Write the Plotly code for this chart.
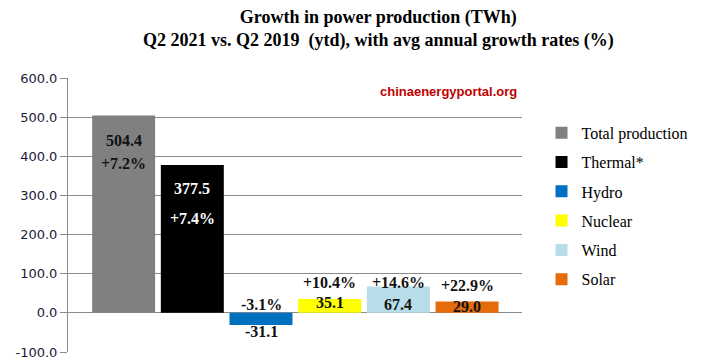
import plotly.graph_objects as go

categories = ["Total production", "Thermal*", "Hydro", "Nuclear", "Wind", "Solar"]
values = [504.4, 377.5, -31.1, 35.1, 67.4, 29.0]
growth = ["+7.2%", "+7.4%", "-3.1%", "+10.4%", "+14.6%", "+22.9%"]
value_text = ["504.4", "377.5", "-31.1", "35.1", "67.4", "29.0"]
y_ticks = [-100, 0, 100, 200, 300, 400, 500, 600]

colors = ["#808080", "#000000", "#0070C0", "#FFFF00", "#B7DEE8", "#E46C0A"]
label_colors = ["#111111", "#FFFFFF", "#111111", "#111111", "#111111", "#111111"]

# label anchoring: ("value" -> anchored at bar end, "zero" -> anchored at 0), pixel shift
value_anchor = [("value", -25), ("value", -23), ("value", -6), ("zero", 10), ("zero", 8), ("zero", 6)]
growth_anchor = [("value", -48), ("value", -53), ("zero", 8), ("zero", 30), ("zero", 30), ("zero", 27)]

fig = go.Figure()
for i, c in enumerate(categories):
    fig.add_trace(go.Bar(
        x=[c], y=[values[i]], name=c, width=0.917,
        marker=dict(color=colors[i], line=dict(width=0)),
        legendgroup=c, hoverinfo="skip",
    ))

serif = "Liberation Serif"
for i, c in enumerate(categories):
    for txt, (anc, sh) in ((value_text[i], value_anchor[i]), (growth[i], growth_anchor[i])):
        fig.add_annotation(
            x=c, y=values[i] if anc == "value" else 0, text="<b>%s</b>" % txt,
            showarrow=False, yshift=sh, yanchor="middle",
            font=dict(family=serif, size=16, color=label_colors[i]),
        )

fig.add_annotation(
    xref="paper", yref="paper", x=0.993, y=0.95, xanchor="right", yanchor="middle",
    text="<b>chinaenergyportal.org</b>", showarrow=False,
    font=dict(family="Liberation Sans", size=13, color="#C00000"),
)

# title as annotation (paper coords: plot top = 1.0, figure top = 1 + 78/274)
fig.add_annotation(
    xref="paper", yref="paper", x=(378 - 68) / 454, y=1 + (78 - 5) / 274,
    xanchor="center", yanchor="top", showarrow=False,
    text="<b>Growth in power production (TWh)<br>Q2 2021 vs. Q2 2019  (ytd), with avg annual growth rates (%)</b>",
    font=dict(family=serif, size=18, color="#000000"),
)

fig.update_layout(
    width=720, height=360,
    margin=dict(l=68, r=198, t=78, b=8, autoexpand=False),
    paper_bgcolor="white", plot_bgcolor="white",
    barmode="overlay",
    showlegend=True,
    legend=dict(
        x=1.043, xanchor="left", y=0.862, yanchor="top",
        font=dict(family=serif, size=16, color="#000000"),
        tracegroupgap=5.5, itemwidth=30, bgcolor="rgba(0,0,0,0)",
    ),
    xaxis=dict(
        type="category", categoryorder="array", categoryarray=categories,
        range=[-0.81, 5.80], showticklabels=False, showgrid=False,
        zeroline=False, showline=False, ticks="", automargin=False,
    ),
    yaxis=dict(
        range=[-100, 600], tickvals=y_ticks, ticktext=["%.1f" % v for v in y_ticks],
        showgrid=True, gridcolor="#8C8C8C", gridwidth=1,
        zeroline=True, zerolinecolor="#8C8C8C", zerolinewidth=1,
        showline=True, linecolor="#8C8C8C", linewidth=1,
        ticks="outside", ticklen=7, tickcolor="#8C8C8C", automargin=False,
        tickfont=dict(family="DejaVu Sans", size=13, color="#1A1A3A"),
    ),
)

fig.write_html(
    "out.html",
    config={"displayModeBar": False},
    post_script="document.body.style.margin='0';document.body.style.padding='0';",
)
